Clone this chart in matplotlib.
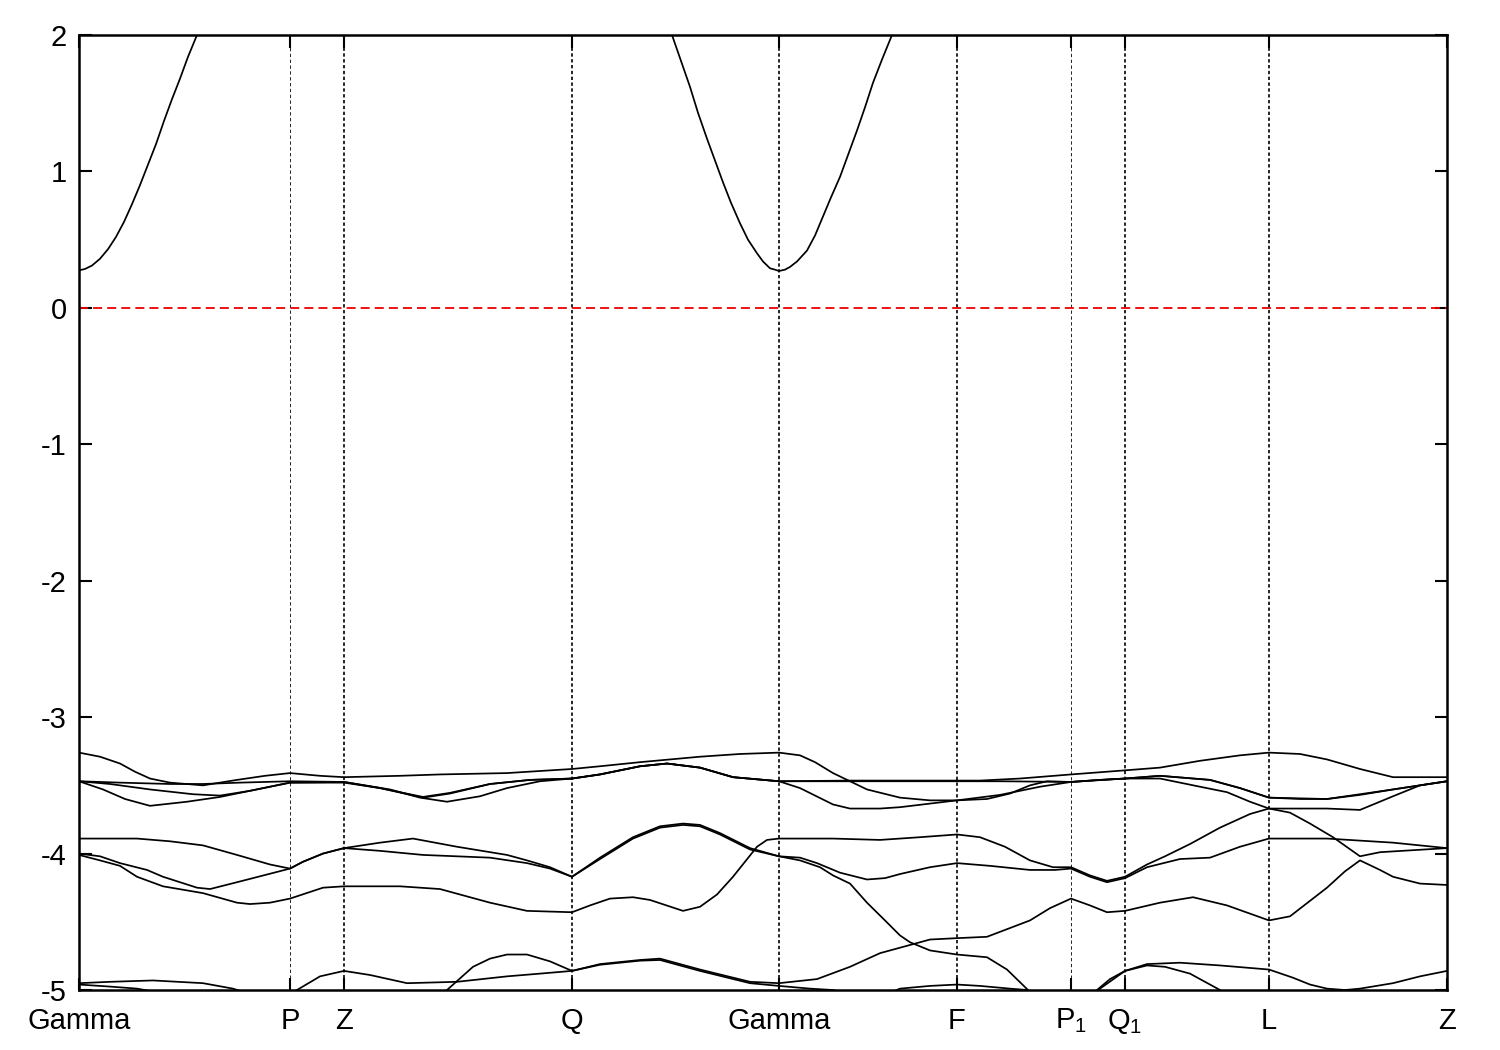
import matplotlib
matplotlib.use("Agg")
import matplotlib.pyplot as plt

plt.rcParams['font.family'] = ['Liberation Sans', 'DejaVu Sans']
plt.rcParams['mathtext.fontset'] = 'custom'
plt.rcParams['mathtext.rm'] = 'Liberation Sans'
plt.rcParams['mathtext.it'] = 'Liberation Sans'
plt.rcParams['axes.unicode_minus'] = False

# high symmetry points along the k-path
kpt_pos = [0.00, 2.11, 2.65, 4.93, 7.00, 8.78, 9.92, 10.46, 11.90, 13.68]
kpt_labels = ['Gamma', 'P', 'Z', 'Q', 'Gamma', 'F', r'P$_1$', r'Q$_1$', 'L', 'Z']
thin_lines = ['P', r'P$_1$']

# conduction band (only the parts inside the window)
cb1_k = [0, .06, .13, .21, .29, .37, .45, .53, .61, .69, .77, .85, .93, 1.01,
         1.09, 1.18, 1.35]
cb1_e = [0.275, 0.285, 0.31, 0.36, 0.43, 0.52, 0.63, 0.76, 0.90, 1.05, 1.20,
         1.37, 1.53, 1.68, 1.84, 2.00, 2.32]
cb2_k = [5.76, 5.93, 6.02, 6.11, 6.19, 6.28, 6.36, 6.44, 6.52, 6.61, 6.69,
         6.78, 6.84, 6.91, 6.96, 7.00, 7.06, 7.11, 7.18, 7.28, 7.36, 7.44,
         7.52, 7.61, 7.69, 7.78, 7.86, 7.94, 8.03, 8.13, 8.29]
cb2_e = [2.33, 2.00, 1.81, 1.62, 1.43, 1.24, 1.08, 0.92, 0.77, 0.62, 0.50,
         0.40, 0.34, 0.29, 0.28, 0.27, 0.28, 0.30, 0.34, 0.42, 0.53, 0.67,
         0.81, 0.96, 1.12, 1.30, 1.47, 1.65, 1.82, 2.00, 2.30]

# valence bands
b1_k = [0, .21, .41, .56, .71, .91, 1.24, 1.58, 1.86, 2.11, 2.41, 2.65, 3.21,
        3.61, 4.28, 4.93, 5.21, 5.61, 6.21, 6.61, 7.00, 7.21, 7.36, 7.54, 7.71,
        7.88, 8.21, 8.51, 8.78, 9.08, 9.31, 9.51, 9.68, 9.92, 10.21, 10.46,
        10.81, 11.31, 11.61, 11.90, 12.21, 12.48, 12.81, 13.14, 13.41, 13.68]
b1_e = [-3.26, -3.29, -3.34, -3.40, -3.45, -3.48, -3.50, -3.46, -3.43, -3.41,
        -3.43, -3.44, -3.43, -3.42, -3.41, -3.38, -3.36, -3.33, -3.29, -3.27,
        -3.26, -3.28, -3.33, -3.41, -3.47, -3.53, -3.59, -3.61, -3.61, -3.60,
        -3.56, -3.50, -3.47, -3.475, -3.46, -3.45, -3.43, -3.46, -3.52, -3.59,
        -3.60, -3.60, -3.57, -3.53, -3.50, -3.47]

b2_k = [0, .41, .91, 1.24, 1.61, 2.11, 2.65, 3.01, 3.44, 3.71, 4.11, 4.51,
        4.93, 5.21, 5.61, 5.88, 6.21, 6.54, 7.00, 7.71, 8.78, 9.01, 9.41, 9.92,
        10.46, 10.81, 11.21, 11.61, 11.90, 12.21, 12.48, 12.81, 13.14, 13.68]
b2_e = [-3.47, -3.48, -3.49, -3.49, -3.48, -3.47, -3.475, -3.52, -3.59, -3.56,
        -3.49, -3.46, -3.45, -3.42, -3.36, -3.34, -3.37, -3.44, -3.47, -3.465,
        -3.465, -3.465, -3.45, -3.42, -3.39, -3.37, -3.32, -3.28, -3.26, -3.27,
        -3.31, -3.38, -3.44, -3.44]

b3_k = [0, .31, .71, 1.14, 1.41, 1.71, 2.11, 2.65, 3.11, 3.41, 3.68, 4.01,
        4.28, 4.61, 4.93, 5.21, 5.61, 5.88, 6.21, 6.54, 7.00, 7.21, 7.54, 7.71,
        8.01, 8.21, 8.78, 9.21, 9.61, 9.92, 10.21, 10.46, 10.81, 11.21, 11.48,
        11.71, 11.90, 12.48, 12.81, 13.14, 13.41, 13.68]
b3_e = [-3.47, -3.49, -3.53, -3.565, -3.575, -3.54, -3.48, -3.475, -3.53,
        -3.59, -3.62, -3.58, -3.52, -3.47, -3.45, -3.42, -3.36, -3.34, -3.37,
        -3.44, -3.47, -3.52, -3.64, -3.67, -3.67, -3.66, -3.61, -3.57, -3.51,
        -3.475, -3.46, -3.45, -3.45, -3.51, -3.55, -3.62, -3.67, -3.67, -3.68,
        -3.58, -3.50, -3.47]

b4_k = [0, .24, .46, .71, 1.08, 1.41, 1.71, 2.11, 2.65, 3.01, 3.44, 3.71,
        4.11, 4.51, 4.93, 5.21, 5.61, 5.88, 6.21, 6.54, 7.00, 7.71, 8.78, 9.21,
        9.92, 10.46, 10.81, 11.31, 11.61, 11.90, 12.48, 13.14, 13.68]
b4_e = [-3.47, -3.53, -3.60, -3.65, -3.62, -3.585, -3.54, -3.48, -3.48, -3.52,
        -3.585, -3.555, -3.49, -3.46, -3.45, -3.42, -3.36, -3.34, -3.37, -3.44,
        -3.47, -3.47, -3.47, -3.47, -3.475, -3.45, -3.43, -3.46, -3.52, -3.59,
        -3.60, -3.53, -3.47]

b5_k = [0, .58, .91, 1.24, 1.58, 1.91, 2.11, 2.24, 2.44, 2.65, 3.01, 3.34,
        3.78, 4.28, 4.48, 4.71, 4.93, 5.21, 5.54, 5.81, 6.04, 6.21, 6.41, 6.71,
        7.00, 7.21, 7.38, 7.61, 7.88, 8.06, 8.21, 8.51, 8.78, 9.11, 9.51, 9.76,
        9.92, 10.11, 10.28, 10.46, 10.68, 11.01, 11.31, 11.61, 11.90, 12.48,
        13.14, 13.68]
b5_e = [-3.89, -3.89, -3.91, -3.94, -4.01, -4.08, -4.11, -4.06, -4.00, -3.96,
        -3.92, -3.89, -3.95, -4.01, -4.05, -4.10, -4.17, -4.03, -3.88, -3.80,
        -3.78, -3.79, -3.85, -3.96, -4.02, -4.03, -4.07, -4.14, -4.19, -4.18,
        -4.15, -4.10, -4.07, -4.09, -4.12, -4.12, -4.11, -4.17, -4.21, -4.18,
        -4.10, -4.04, -4.03, -3.95, -3.89, -3.89, -3.92, -3.96]

b6_k = [0, .21, .41, .68, .84, 1.18, 1.31, 1.58, 2.11, 2.24, 2.44, 2.65, 3.01,
        3.44, 4.11, 4.48, 4.71, 4.93, 5.21, 5.54, 5.81, 6.04, 6.21, 6.41, 6.71,
        7.00, 7.21, 7.41, 7.54, 7.71, 7.88, 8.06, 8.21, 8.31, 8.51, 8.78, 9.08,
        9.28, 9.49, 9.61]
b6_e = [-4.00, -4.02, -4.07, -4.12, -4.17, -4.25, -4.26, -4.21, -4.11, -4.06,
        -4.00, -3.96, -3.98, -4.01, -4.03, -4.07, -4.11, -4.17, -4.04, -3.89,
        -3.81, -3.79, -3.80, -3.86, -3.97, -4.02, -4.05, -4.10, -4.16, -4.22,
        -4.36, -4.49, -4.60, -4.65, -4.71, -4.74, -4.76, -4.85, -5.00, -5.08]

b7_k = [0, .21, .41, .58, .84, 1.24, 1.58, 1.71, 1.91, 2.11, 2.44, 2.65, 3.21,
        3.61, 4.11, 4.48, 4.93, 5.11, 5.31, 5.54, 5.71, 6.04, 6.21, 6.38, 6.54,
        6.78, 6.88, 7.00, 7.54, 8.01, 8.41, 8.78, 9.01, 9.26, 9.51, 9.74, 9.92,
        10.11, 10.28, 10.46, 10.68, 10.86, 11.11, 11.41, 11.71, 11.90, 12.11,
        12.31, 12.54, 12.81, 13.01, 13.68]
b7_e = [-4.01, -4.05, -4.09, -4.17, -4.24, -4.29, -4.36, -4.37, -4.36, -4.33,
        -4.25, -4.24, -4.24, -4.26, -4.36, -4.42, -4.43, -4.38, -4.33, -4.32,
        -4.34, -4.42, -4.39, -4.30, -4.17, -3.95, -3.90, -3.89, -3.89, -3.90,
        -3.88, -3.86, -3.88, -3.95, -4.05, -4.10, -4.10, -4.16, -4.20, -4.17,
        -4.08, -4.02, -3.93, -3.81, -3.71, -3.67, -3.70, -3.78, -3.88, -4.02,
        -3.99, -3.96]

b8_k = [2.01, 2.18, 2.41, 2.65, 2.91, 3.28, 3.78, 4.28, 4.61, 4.93, 5.21, 5.61,
        5.81, 6.21, 6.71, 7.00, 7.38, 7.71, 8.01, 8.21, 8.51, 8.78, 9.08, 9.51,
        9.71, 9.92, 10.11, 10.28, 10.46, 10.81, 11.14, 11.48, 11.90, 12.11,
        12.48, 12.66, 12.81, 13.01, 13.14, 13.41, 13.68]
b8_e = [-5.08, -5.00, -4.90, -4.86, -4.89, -4.95, -4.94, -4.90, -4.88, -4.86,
        -4.81, -4.78, -4.77, -4.85, -4.94, -4.95, -4.92, -4.83, -4.73, -4.69,
        -4.63, -4.62, -4.61, -4.49, -4.40, -4.33, -4.38, -4.43, -4.42, -4.36,
        -4.32, -4.38, -4.49, -4.46, -4.25, -4.13, -4.05, -4.12, -4.17, -4.22,
        -4.23]

b9_k = [0, .31, .74, 1.24, 1.54, 1.71, 1.86]
b9_e = [-4.95, -4.94, -4.93, -4.95, -4.99, -5.03, -5.08]

b10_k = [0, .31, .58, .81, 1.06]
b10_e = [-4.96, -4.975, -4.99, -5.02, -5.06]

b11_k = [3.51, 3.68, 3.94, 4.11, 4.28, 4.48, 4.71, 4.93, 5.21, 5.61, 5.81,
         6.21, 6.71, 7.00, 7.31, 7.54, 7.71]
b11_e = [-5.10, -5.00, -4.83, -4.77, -4.74, -4.74, -4.79, -4.86, -4.815,
         -4.785, -4.78, -4.86, -4.95, -4.97, -4.99, -5.00, -5.03]

b12_k = [8.11, 8.21, 8.51, 8.78, 9.01, 9.31, 9.48, 9.61]
b12_e = [-5.02, -4.99, -4.97, -4.96, -4.97, -4.99, -5.00, -5.03]

b13_k = [10.06, 10.18, 10.31, 10.46, 10.68, 11.01, 11.41, 11.90, 12.14, 12.31,
         12.48, 12.66, 12.81, 13.14, 13.41, 13.68]
b13_e = [-5.08, -5.00, -4.92, -4.86, -4.81, -4.80, -4.82, -4.85, -4.91, -4.96,
         -4.99, -5.00, -4.99, -4.95, -4.90, -4.86]

b14_k = [10.11, 10.21, 10.46, 10.68, 10.86, 11.11, 11.26, 11.41, 11.56]
b14_e = [-5.06, -4.99, -4.86, -4.82, -4.83, -4.88, -4.94, -5.00, -5.06]

bands = [(cb1_k, cb1_e), (cb2_k, cb2_e),
         (b1_k, b1_e), (b2_k, b2_e), (b3_k, b3_e), (b4_k, b4_e),
         (b5_k, b5_e), (b6_k, b6_e), (b7_k, b7_e), (b8_k, b8_e),
         (b9_k, b9_e), (b10_k, b10_e), (b11_k, b11_e), (b12_k, b12_e),
         (b13_k, b13_e), (b14_k, b14_e)]

fig = plt.figure(figsize=(15, 10.5), dpi=100)
ax = fig.add_axes([79 / 1500, 1 - 990 / 1050, 1368 / 1500, 955 / 1050])

for k, e in bands:
    ax.plot(k, e, color='black', lw=1.25, solid_joinstyle='round')

# vertical lines at the inner high symmetry points
for pos, lab in zip(kpt_pos[1:-1], kpt_labels[1:-1]):
    if lab in thin_lines:
        ax.axvline(pos, color='black', lw=0.6, dashes=(4, 3))
    else:
        ax.axvline(pos, color='black', lw=1.2, dashes=(2, 1.5))

# Fermi level
ax.axhline(0, color='#ee0000', lw=1.3, dashes=(5, 2.8))

ax.set_xlim(kpt_pos[0], kpt_pos[-1])
ax.set_ylim(-5, 2)
ax.set_xticks(kpt_pos)
ax.set_xticklabels(kpt_labels)
ax.set_yticks(range(-5, 3))
ax.tick_params(direction='in', length=9, width=1.5, top=True, right=True,
               labelsize=21)
ax.tick_params(axis='x', pad=12)
ax.tick_params(axis='y', pad=9)
for sp in ax.spines.values():
    sp.set_linewidth(1.8)

fig.savefig('out.png', dpi=100)
